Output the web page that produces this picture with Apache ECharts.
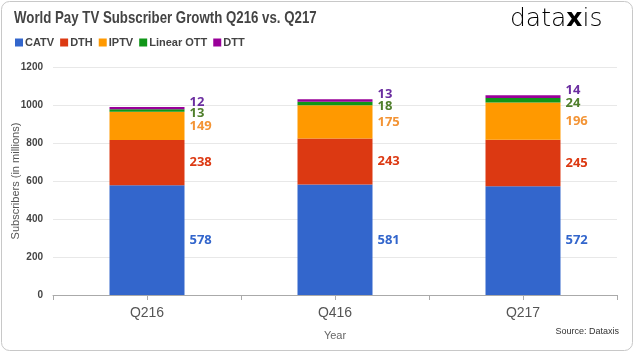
<!DOCTYPE html>
<html lang="en" style="height: 100%">
<head>
  <meta charset="UTF-8" />
  <title>World Pay TV Subscriber Growth</title>
  <script src="https://cdn.jsdelivr.net/npm/echarts@6/dist/echarts.min.js"></script>
</head>
<body style="height: 100%; margin: 0; background: #fff">
  <div id="main" style="width: 636px; height: 353px"></div>
  <script type="text/javascript">
    // data
    var quarters = ['Q216', 'Q416', 'Q217'];
    var catv = [578, 581, 572];
    var dth = [238, 243, 245];
    var iptv = [149, 175, 196];
    var linearOtt = [13, 18, 24];
    var dtt = [12, 13, 14];
    var yTicks = [0, 200, 400, 600, 800, 1000, 1200];

    var myChart = echarts.init(document.getElementById('main'));

    // label next to each segment
    function lbl(color, offset) {
      return {
        show: true,
        position: 'right',
        distance: 5,
        offset: offset || [0, 0],
        color: color,
        fontSize: 13,
        fontWeight: 'bold',
        fontFamily: 'Open Sans'
      };
    }

    var option = {
      animation: false,
      backgroundColor: '#fff',
      legend: {
        left: 10,
        top: 32,
        itemWidth: 8,
        itemHeight: 8,
        itemGap: 6,
        icon: 'rect',
        textStyle: { fontSize: 11, fontWeight: 'bold', color: '#444', fontFamily: 'Liberation Sans', padding: [0, 0, 0, -3] }
      },
      grid: { left: 53, right: 19, top: 67, bottom: 58, outerBoundsMode: 'none' },
      xAxis: [{
        type: 'category',
        data: quarters,
        name: 'Year',
        nameLocation: 'middle',
        nameGap: 35,
        nameTextStyle: { fontSize: 11, color: '#666', fontFamily: 'Liberation Sans' },
        axisLine: { lineStyle: { color: '#aaa' } },
        axisTick: { show: true, length: 5, lineStyle: { color: '#aaa' } },
        axisLabel: { fontSize: 14, color: '#555', margin: 11, fontFamily: 'Liberation Sans' }
      }, {
        type: 'category',
        data: quarters,
        position: 'bottom',
        axisLine: { show: false },
        axisTick: { show: true, alignWithLabel: true, length: 5, lineStyle: { color: '#aaa' } },
        axisLabel: { show: false }
      }],
      yAxis: {
        type: 'value',
        min: yTicks[0],
        max: yTicks[yTicks.length - 1],
        interval: 200,
        name: 'Subscribers (in millions)',
        nameLocation: 'middle',
        nameGap: 32,
        nameMoveOverlap: false,
        nameTextStyle: { fontSize: 11, color: '#555', fontFamily: 'Liberation Sans' },
        axisLine: { show: false },
        axisTick: { show: false },
        axisLabel: { fontSize: 10, fontWeight: 'bold', color: '#444', margin: 10, fontFamily: 'Liberation Sans',
          formatter: function (v) { return String(v); } },
        splitLine: { lineStyle: { color: '#e8e8e8' } }
      },
      series: [
        { name: 'CATV', type: 'bar', stack: 'a', barWidth: 75, data: catv,
          itemStyle: { color: '#3366cc' }, label: lbl('#3366cc') },
        { name: 'DTH', type: 'bar', stack: 'a', data: dth,
          itemStyle: { color: '#dc3912' }, label: lbl('#dc3912') },
        { name: 'IPTV', type: 'bar', stack: 'a', data: iptv,
          itemStyle: { color: '#ff9900' }, label: lbl('#f39435') },
        { name: 'Linear OTT', type: 'bar', stack: 'a', data: linearOtt,
          itemStyle: { color: '#109618' }, label: lbl('#4f7f2c', [0, 3]) },
        { name: 'DTT', type: 'bar', stack: 'a', data: dtt,
          itemStyle: { color: '#990099' }, label: lbl('#6b2ea0', [0, -6]) }
      ],
      graphic: [
        { type: 'rect', shape: { x: 1.5, y: 1.5, width: 631, height: 349, r: 8 },
          style: { fill: 'none', stroke: '#c8c8c8', lineWidth: 1 }, z: -1 },
        // title, squeezed to match the condensed face of the original
        { type: 'text', x: 14, y: 10, scaleX: 0.78,
          style: { text: 'World Pay TV Subscriber Growth Q216 vs. Q217', fontSize: 17, fontWeight: 'bold',
            fill: '#444', fontFamily: 'Liberation Sans' } },
        { type: 'text', left: 510, top: 7,
          style: {
            text: '{a|data}{b|x}{a|is}',
            rich: {
              a: { fontSize: 25, color: '#3a3a3a', fontFamily: 'DejaVu Sans', fontWeight: 'lighter' },
              b: { fontSize: 25, color: '#f07a1a', fontFamily: 'DejaVu Sans', fontWeight: 'bold' }
            }
          } },
        { type: 'text', right: 17, bottom: 17,
          style: { text: 'Source: Dataxis', fontSize: 9, fill: '#333', fontFamily: 'Liberation Sans' } }
      ]
    };

    myChart.setOption(option);
    window.addEventListener('resize', myChart.resize);
  </script>
</body>
</html>
